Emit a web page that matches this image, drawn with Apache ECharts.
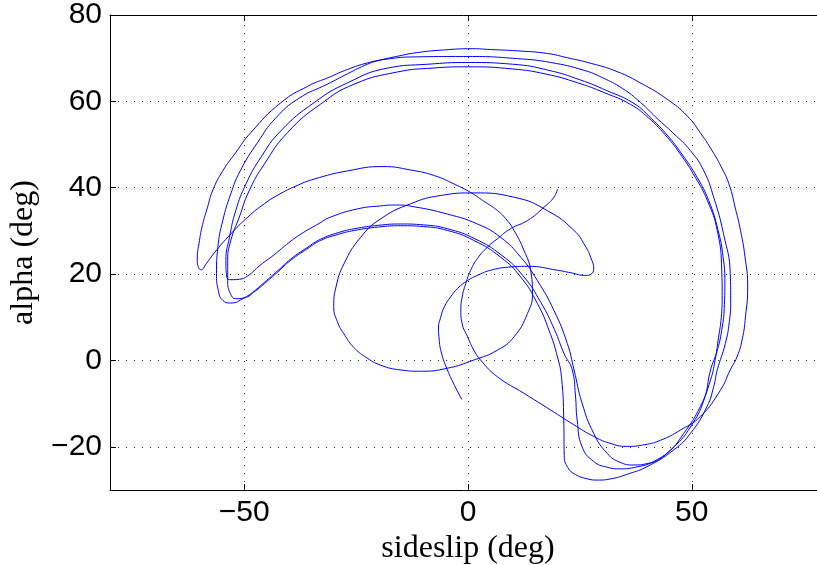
<!DOCTYPE html>
<html>
<head>
<meta charset="utf-8">
<script src="https://cdn.jsdelivr.net/npm/echarts@6/dist/echarts.min.js"></script>
<style>
  html, body { margin: 0; padding: 0; background: #fff; }
  #chart { width: 817px; height: 565px; }
</style>
</head>
<body>
<div id="chart"></div>
<script>
// Tick values
const xTicks = [-50, 0, 50];
const yTicks = [-20, 0, 20, 40, 60, 80];
const xGrid = [-50, 0, 50];
const yGrid = [-20, 0, 20, 40, 60];

// Trajectory [sideslip, alpha], in drawing order
const legStart = [[20,39.7],[19.2,37.8],[17,35.5],[13.3,32.4],[9.5,30.5],[6.6,28.2],[4.3,26.2],[2.1,23.6],[0.6,20.9],[-0.5,17.8],[-1.3,14.7],[-1.6,11.6],[-1.3,8.5],[-0.1,5.5],[1.3,2.4],[2.8,0.1],[6.6,-3.8],[12.5,-7.6],[18.5,-11.5],[23.5,-14.8],[28.1,-17.6],[31.5,-19.1],[35.5,-19.9],[39.5,-19.5],[43,-18.5],[47.5,-16.1],[51.9,-13]];
const loop1 = [[56.4,-6.9],[58.6,-2.2],[60.1,0.8],[61.3,5],[62,10.1],[62.5,17],[61.9,24],[60.9,30.1],[59.8,35],[58.3,40.9],[56.5,45],[54.6,48.5],[52,52.6],[49,56.6],[44.5,60.5],[39,64],[33.3,66.9],[27.5,68.8],[22.2,70.1],[17.7,71.1],[11,71.7],[5,72],[1,72.2],[-5.5,71.9],[-11.3,71.3],[-16,70.4],[-20.2,69.4],[-22.5,68.6],[-26.9,66.4],[-31.4,64],[-37.8,60.7],[-43,56.1],[-47,50.5],[-50.9,43.9],[-53,38.6],[-54.8,32.4],[-55.9,26.2],[-56.2,20.1],[-55.8,16.2],[-54.8,13.9],[-53,13.3],[-50,14.5]];
const arch31b = [[-47.5,16.3],[-45.5,18.1],[-42.5,20.8],[-39.6,23.5],[-36,26.1],[-32.9,28.1],[-29,29.6],[-25.4,30.5],[-20,31.3],[-15,31.6],[-10,31.4],[-4.6,30.5],[1.5,28.2],[7.6,24.3],[12.3,19.6],[16.3,13.4],[19.3,7.2],[21.5,1.5],[23.3,-2.2],[24,-8],[24.4,-13.8],[25.5,-20],[28.1,-23.4],[31,-24.7],[34,-25.1],[37.5,-24.7],[41.5,-23.4],[46,-20],[49.7,-15.4],[52.7,-9.2],[54.2,-2.2]];
const loop2 = [[55.6,2],[56.7,7],[57.3,13],[57.4,18],[57,24],[55.9,30.1],[53.8,37],[51.2,42.4],[47.8,47.8],[44.5,52.2],[41,56],[37.1,59.5],[31,62.5],[25,65],[18,67.2],[10,68.6],[0,69],[-9,68.6],[-18,67.7],[-26.9,64.3],[-34.4,59.7],[-41.8,53.2],[-46.3,47],[-49.6,40.9],[-51.9,34.7],[-53.3,28.5],[-54.1,23.2],[-53.9,19.3],[-53,18.7],[-51.1,18.8]];
const arch36 = [[-49.2,19.6],[-46.5,22],[-43.3,24.5],[-40,27.3],[-37.3,29.3],[-33.5,31.6],[-30.7,33.2],[-24.7,35.1],[-19.5,35.8],[-16,36],[-12.1,35.6],[-4.6,33.9],[2.1,31.6],[7.3,28.5],[11.8,23.9],[15.5,18.5],[19.2,11.6],[22.2,3.9],[23.7,-2.2],[25.5,-9.9],[28.1,-16.9],[31.1,-21.5],[34,-23.6],[37,-24.2],[40,-23.9],[44.5,-21.5],[48.2,-16.9],[51.9,-10.7],[54.2,-4.5]];
const loop3 = [[55.2,0],[56,5.4],[56.6,10],[56.8,15],[56.7,21],[55.7,30.1],[53.5,37],[50.8,42.4],[47.3,48],[44,52.3],[40.3,56.2],[36.3,59.3],[30.5,62],[24.5,64.3],[17.5,66.3],[10,67.5],[0,68],[-8,67.7],[-15.8,66.8],[-25.4,64],[-32.9,59.4],[-40.3,52.8],[-45.5,45.5],[-48.9,39.3],[-51.1,33.2],[-53,27.8],[-53.7,23.2],[-53.7,18.5],[-53.1,15.5],[-51.9,14.3],[-50,14.5]];
const arch31a = [[-47.5,16.1],[-45.5,17.8],[-42.5,20.5],[-39.6,23.2],[-36,25.8],[-32.9,27.8],[-29,29.2],[-25.4,30.1],[-20,30.9],[-15,31.2],[-10,31],[-4.6,30.1],[1.3,27.8],[7.3,23.9],[11.8,19.3],[15.5,13.2],[18.1,7],[20,0.8],[20.9,-4],[21.4,-13.8],[21.5,-22],[22.3,-24.8],[24,-26.4],[26.6,-27.4],[28.9,-27.7],[32,-27.4],[36,-26.2],[40,-24.6],[46,-20.7],[49.7,-16.9],[53.4,-10.7],[54.9,-6.1],[55.7,-2.2]];
const loop4 = [[57.5,3.9],[58.4,9],[58.7,14],[58.6,20.1],[57.1,29.3],[54.9,37.8],[52.7,43.9],[49.7,48.6],[46,52.5],[42,56.3],[38.5,59.8],[34.5,63],[30,65.5],[25.9,67.2],[18.5,69],[11,69.9],[0,70.4],[-12,70.3],[-18,69.8],[-22.5,68.9],[-26.9,67.4],[-31,65.6],[-35.8,63.5],[-41.8,59.7],[-48.5,52.8],[-52,48],[-54.8,43.9],[-57,39.5],[-58.2,35.5],[-59.3,31.5],[-60,27.8],[-60.5,23.2],[-60.2,21.5],[-59.7,21]];
const arch45 = [[-58.5,22.4],[-56.7,24.9],[-53,29.3],[-49.2,33.2],[-45.5,36.3],[-41.8,38.7],[-38,40.6],[-34.4,42],[-26.9,43.9],[-19,44.9],[-12.8,44.1],[-7.5,42.8],[-3,40.8],[0.6,38.9],[3.5,36.9],[6.6,34.7],[8.7,32.5],[10.3,30.1],[12.5,25.5],[14,20.9],[14.4,15.5],[13.3,10.9],[10.3,5.5],[6.6,2.4],[1.3,0.1],[-4.6,-1.8],[-10.6,-2.5],[-15,-2.2],[-19.5,-1.1]];
const loopSmall = [[-22.9,0.8],[-25.5,3],[-27.5,5.8],[-29.2,9],[-30,12.5],[-29.5,17],[-27.7,22.4],[-24,28.5],[-19.5,32.8],[-12.8,36.3],[-6.1,38.2],[1.3,38.8],[10.3,37.8],[17.7,34.7],[23.7,30.1],[26.2,26.5],[27.4,23.9],[28.1,21.2],[27.5,20],[26.3,19.7],[23,20.3],[20,20.9],[13.3,21.8],[9,21.6],[5.1,20.9],[2.3,19.8],[-0.1,18.5],[-2.3,16.7],[-3.9,14.7],[-5.3,12.4],[-6.1,10],[-6.6,7.5],[-6.5,5.5],[-6,2],[-4.6,-2.2],[-3,-5.8],[-1.4,-9]];

const trajectory = [].concat(legStart, loop1, arch31b, loop2, arch36, loop3, arch31a, loop4, arch45, loopSmall);

const fmt = v => (v < 0 ? '\u2212' + Math.abs(v) : String(v));
const labelFont = { fontFamily: 'Liberation Sans', fontSize: 30, color: '#000' };
const nameFont = { fontFamily: 'Liberation Serif', fontSize: 32, color: '#000' };
const axisLineStyle = { color: '#000', width: 1 };

const chart = echarts.init(document.getElementById('chart'), null, { renderer: 'canvas' });
chart.setOption({
  animation: false,
  backgroundColor: '#fff',
  grid: { left: 110, top: 15, width: 716, height: 475, containLabel: false, outerBoundsMode: 'none' },
  xAxis: [
    {
      type: 'value', min: -80, max: 80, interval: 10, position: 'bottom',
      axisLine: { show: true, onZero: false, lineStyle: axisLineStyle },
      axisTick: { show: true, inside: true, length: 6, customValues: xTicks, lineStyle: axisLineStyle },
      axisLabel: Object.assign({ customValues: xTicks, margin: 8,
        formatter: v => (xTicks.indexOf(v) >= 0 ? fmt(v) : '') }, labelFont),
      splitLine: { show: false },
      name: 'sideslip (deg)', nameLocation: 'middle', nameGap: 30, nameTextStyle: nameFont
    },
    {
      type: 'value', min: -80, max: 80, interval: 10, position: 'top',
      axisLine: { show: true, onZero: false, lineStyle: axisLineStyle },
      axisTick: { show: true, inside: true, length: 6, customValues: xTicks, lineStyle: axisLineStyle },
      axisLabel: { show: false },
      splitLine: { show: false }
    }
  ],
  yAxis: [
    {
      type: 'value', min: -30, max: 80, interval: 10, position: 'left',
      axisLine: { show: true, onZero: false, lineStyle: axisLineStyle },
      axisTick: { show: true, inside: true, length: 6, customValues: yTicks, lineStyle: axisLineStyle },
      axisLabel: Object.assign({ customValues: yTicks, margin: 8,
        formatter: v => (yTicks.indexOf(v) >= 0 ? fmt(v) : '') }, labelFont),
      splitLine: { show: false },
      name: 'alpha (deg)', nameLocation: 'middle', nameGap: 70, nameTextStyle: nameFont
    }
  ],
  series: [
    {
      type: 'line', xAxisIndex: 0, yAxisIndex: 0, z: 1, silent: true,
      data: [[0, 0]], showSymbol: false, lineStyle: { opacity: 0 },
      markLine: {
        silent: true, symbol: ['none', 'none'], label: { show: false },
        lineStyle: { color: '#222', width: 1, type: [1, 7] },
        emphasis: { disabled: true },
        data: xGrid.map(v => ({ xAxis: v })).concat(yGrid.map(v => ({ yAxis: v })))
      }
    },
    {
      type: 'line', xAxisIndex: 0, yAxisIndex: 0, z: 3,
      data: trajectory, showSymbol: false, smooth: 0.5,
      lineStyle: { color: '#0000ff', width: 1 }
    }
  ]
});
</script>
</body>
</html>
